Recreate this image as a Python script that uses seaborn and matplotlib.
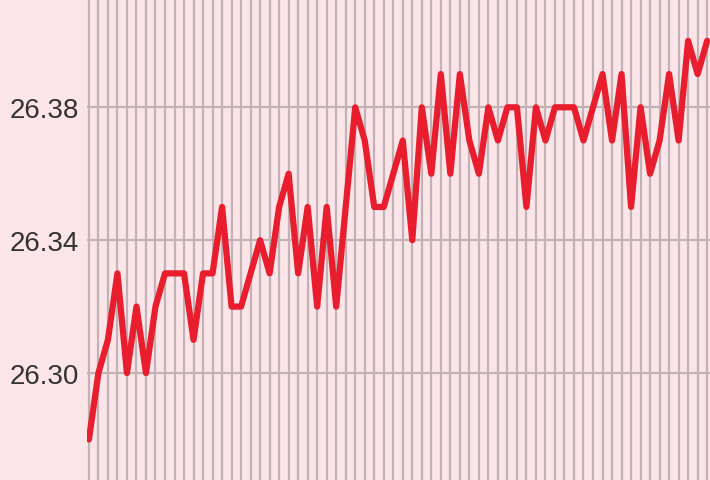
import matplotlib
matplotlib.use("Agg")
import matplotlib.pyplot as plt
import seaborn as sns
import pandas as pd

values = [26.28, 26.30, 26.31, 26.33, 26.30, 26.32, 26.30, 26.32, 26.33, 26.33,
          26.33, 26.31, 26.33, 26.33, 26.35, 26.32, 26.32, 26.33, 26.34, 26.33,
          26.35, 26.36, 26.33, 26.35, 26.32, 26.35, 26.32, 26.35, 26.38, 26.37,
          26.35, 26.35, 26.36, 26.37, 26.34, 26.38, 26.36, 26.39, 26.36, 26.39,
          26.37, 26.36, 26.38, 26.37, 26.38, 26.38, 26.35, 26.38, 26.37, 26.38,
          26.38, 26.38, 26.37, 26.38, 26.39, 26.37, 26.39, 26.35, 26.38, 26.36,
          26.37, 26.39, 26.37, 26.40, 26.39, 26.40]
index = list(range(len(values)))
ytick_values = [26.30, 26.34, 26.38]
ytick_labels = ["26.30", "26.34", "26.38"]

df = pd.DataFrame({"i": index, "v": values})

sns.set_theme(style="white")
plt.rcParams['font.family'] = ['Liberation Sans', 'DejaVu Sans']

bg = "#fbe5e8"
grid_c = "#c2b2b5"
fig = plt.figure(figsize=(7.10, 4.81), dpi=100, facecolor=bg)
ax = fig.add_axes([87 / 710, 0, 623 / 710, 1])
ax.set_facecolor(bg)

sns.lineplot(data=df, x="i", y="v", ax=ax, color="#e81e2e", linewidth=4.5,
             solid_joinstyle="round", zorder=3)

ax.set_xlim(-0.2, 65.3)
ax.set_ylim(26.2678, 26.4126)
ax.set_xticks(index)
ax.set_xticklabels([])
ax.set_yticks(ytick_values)
ax.set_yticklabels(ytick_labels, fontsize=20, color="#333333")
ax.tick_params(axis="both", length=0)
ax.tick_params(axis="y", pad=6)
ax.grid(True, axis="both", color=grid_c, linewidth=1.6)
ax.set_axisbelow(True)
for s in ax.spines.values():
    s.set_visible(False)
ax.set_xlabel("")
ax.set_ylabel("")

fig.savefig("out.png", dpi=100, facecolor=bg)
